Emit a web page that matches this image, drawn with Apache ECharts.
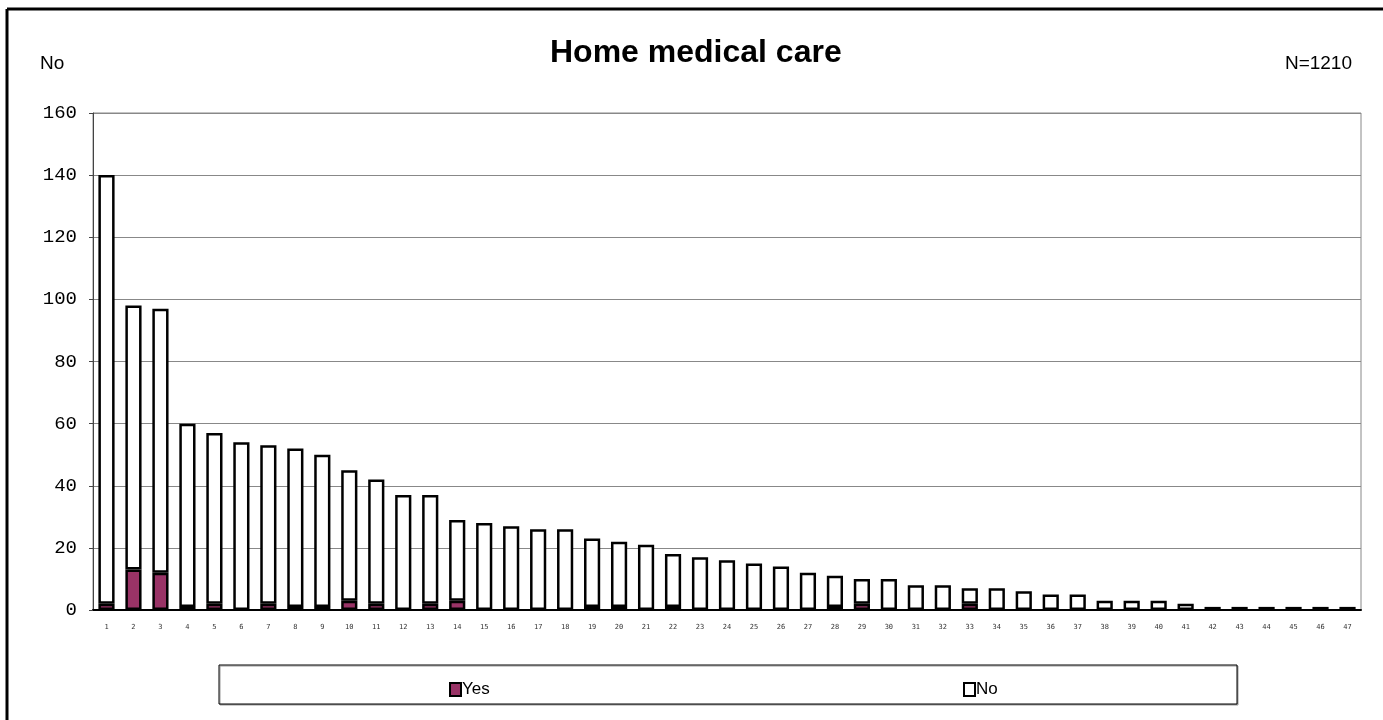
<!DOCTYPE html>
<html>
<head>
<meta charset="utf-8">
<title>Home medical care</title>
<script src="https://cdn.jsdelivr.net/npm/echarts@6/dist/echarts.min.js"></script>
<style>
    html, body { margin: 0; padding: 0; background: #fff; }
    #main { width: 1383px; height: 720px; }
</style>
</head>
<body>
<div id="main"></div>
<script>
// categories 1..47
var categories = ['1','2','3','4','5','6','7','8','9','10','11','12','13','14','15','16','17','18','19','20',
    '21','22','23','24','25','26','27','28','29','30','31','32','33','34','35','36','37','38','39','40',
    '41','42','43','44','45','46','47'];
var yesValues = [2,13,12,1,2,0,2,1,1,3,2,0,2,3,0,0,0,0,1,1,
    0,1,0,0,0,0,0,1,2,0,0,0,2,0,0,0,0,0,0,0,
    0,0,0,1,0,0,0];
var noValues = [138,85,85,59,55,54,51,51,49,42,40,37,35,26,28,27,26,26,22,21,
    21,17,17,16,15,14,12,10,8,10,8,8,5,7,6,5,5,3,3,3,
    2,1,1,0,1,1,1];
var yTicks = [0, 20, 40, 60, 80, 100, 120, 140, 160];

function noZero(arr){
    return arr.map(function(v){ return v === 0 ? null : v; });
}

var legendText = { fontFamily: 'Liberation Sans', fontSize: 17, color: '#000', padding: [0, 0, 0, -4] };

var myChart = echarts.init(document.getElementById('main'));
var option = {
    animation: false,
    backgroundColor: '#fff',
    title: {
        text: 'Home medical care',
        left: 545,
        top: 32,
        textStyle: {
            fontFamily: 'Liberation Sans',
            fontWeight: 'bold',
            fontSize: 32,
            color: '#000'
        }
    },
    legend: [
        {
            data: ['Yes'],
            left: 444,
            top: 676,
            icon: 'rect',
            itemWidth: 11,
            itemHeight: 13,
            itemGap: 2,
            textStyle: legendText
        },
        {
            data: ['No'],
            left: 958,
            top: 676,
            icon: 'rect',
            itemWidth: 11,
            itemHeight: 13,
            itemGap: 2,
            textStyle: legendText
        }
    ],
    grid: {
        left: 93,
        top: 113,
        width: 1268,
        height: 497,
        show: true,
        borderColor: '#888',
        borderWidth: 1
    },
    xAxis: {
        type: 'category',
        data: categories,
        axisLine: { lineStyle: { color: '#000', width: 2 } },
        axisTick: { inside: true, length: 4, lineStyle: { color: '#000' } },
        axisLabel: { fontFamily: 'DejaVu Sans Mono', fontSize: 7, color: '#333', margin: 14, interval: 0 }
    },
    yAxis: {
        type: 'value',
        min: 0,
        max: 160,
        interval: 20,
        axisLine: { show: true, lineStyle: { color: '#444', width: 1 } },
        axisTick: { show: true, length: 4, lineStyle: { color: '#444' } },
        axisLabel: {
            fontFamily: 'Liberation Mono',
            fontSize: 19,
            color: '#000',
            margin: 16,
            formatter: function(v){ return yTicks.indexOf(v) >= 0 ? String(v) : ''; }
        },
        splitLine: { lineStyle: { color: '#888', width: 1 } }
    },
    graphic: [
        // outer frame of the picture (left and top edges)
        { type: 'line', shape: { x1: 7, y1: 9, x2: 1383, y2: 9 }, style: { stroke: '#000', lineWidth: 3 } },
        { type: 'line', shape: { x1: 7, y1: 9, x2: 7, y2: 720 }, style: { stroke: '#000', lineWidth: 3 } },
        // legend frame
        { type: 'rect', z: -1, shape: { x: 219, y: 665, width: 1018, height: 39 },
          style: { fill: '#fff', stroke: '#000', lineWidth: 1, shadowColor: '#999', shadowOffsetY: 1, shadowOffsetX: 1 } },
        { type: 'text', left: 40, top: 54, style: { text: 'No', fontFamily: 'Liberation Sans', fontSize: 19, fill: '#000' } },
        { type: 'text', right: 31, top: 54, style: { text: 'N=1210', fontFamily: 'Liberation Sans', fontSize: 19, fill: '#000' } }
    ],
    series: [
        {
            name: 'Yes',
            type: 'bar',
            stack: 'total',
            barWidth: '60%',
            data: noZero(yesValues),
            itemStyle: { color: '#993366', borderColor: '#000', borderWidth: 2.5 }
        },
        {
            name: 'No',
            type: 'bar',
            stack: 'total',
            barWidth: '60%',
            data: noZero(noValues),
            itemStyle: { color: '#fff', borderColor: '#000', borderWidth: 2.5 }
        }
    ]
};
myChart.setOption(option);
</script>
</body>
</html>
